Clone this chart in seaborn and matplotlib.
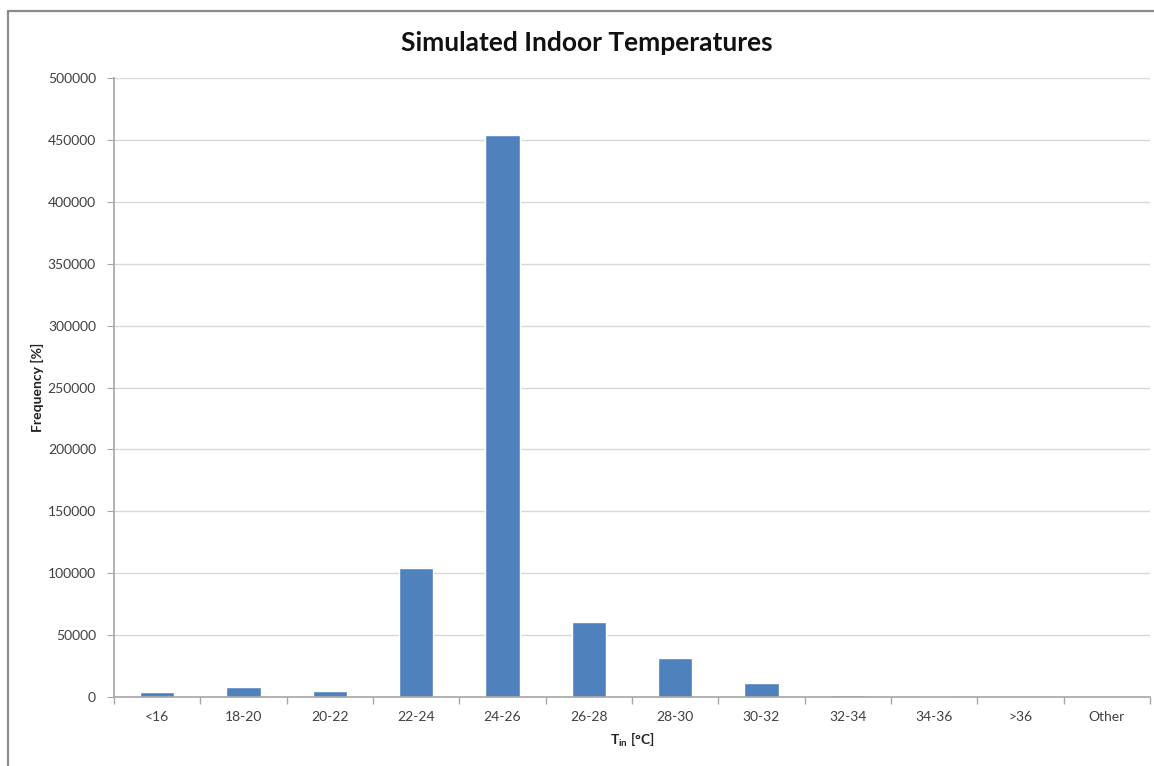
import matplotlib
matplotlib.use('Agg')
import matplotlib.pyplot as plt
import seaborn as sns
import pandas as pd
from matplotlib.lines import Line2D

# data
categories = ['<16', '18-20', '20-22', '22-24', '24-26', '26-28',
              '28-30', '30-32', '32-34', '34-36', '>36', 'Other']
frequency = [3800, 8300, 4600, 104000, 454000, 60500,
             31800, 11000, 1300, 1000, 0, 0]
y_ticks = [0, 50000, 100000, 150000, 200000, 250000,
           300000, 350000, 400000, 450000, 500000]

df = pd.DataFrame({'category': categories, 'frequency': frequency})

sns.set_style('white')
plt.rcParams['font.family'] = ['Lato', 'DejaVu Sans']
plt.rcParams['mathtext.fontset'] = 'custom'
plt.rcParams['mathtext.rm'] = 'Lato:bold'
plt.rcParams['mathtext.it'] = 'Lato:bold'

W, H = 1154, 766
fig = plt.figure(figsize=(W / 100, H / 100), dpi=100)
ax = fig.add_axes([114 / W, 1 - 697 / H, (1150 - 114) / W, (697 - 78) / H])

sns.barplot(data=df, x='category', y='frequency', color='#4F81BD',
            width=0.4, saturation=1, ax=ax)

ax.set_xlim(-0.5, len(categories) - 0.5)
ax.set_ylim(0, 500000)
ax.set_yticks(y_ticks)
ax.set_yticklabels([str(v) for v in y_ticks])
ax.yaxis.grid(True, color='#d9d9d9', lw=1)
ax.set_axisbelow(True)

for s in ['top', 'right']:
    ax.spines[s].set_visible(False)
for s in ['left', 'bottom']:
    ax.spines[s].set_color('#a6a6a6')
    ax.spines[s].set_linewidth(1.2)

ax.tick_params(axis='y', left=True, length=5, color='#a6a6a6',
               labelsize=10, labelcolor='#404040', pad=8)
ax.tick_params(axis='x', which='major', length=0, labelsize=10,
               labelcolor='#404040', pad=10)
ax.set_xticks([i - 0.5 for i in range(len(categories) + 1)], minor=True)
ax.tick_params(axis='x', which='minor', bottom=True, length=5,
               color='#a6a6a6', width=1)

ax.set_xlabel(r'T$_{\rm in}$ [°C]', fontsize=10, fontweight='bold',
              color='#222222', labelpad=6)
ax.set_ylabel('Frequency [%]', fontsize=10, fontweight='bold',
              color='#222222', labelpad=3)
fig.text(587 / W, 1 - 43 / H, 'Simulated Indoor Temperatures',
         ha='center', va='center', fontsize=19, fontweight='bold',
         color='#111111')

# chart border (cropped at right and bottom)
fig.add_artist(Line2D([8 / W, 8 / W], [0, 1 - 11 / H], transform=fig.transFigure,
                      color='#8c8c8c', lw=1.6))
fig.add_artist(Line2D([8 / W, 1], [1 - 11 / H, 1 - 11 / H], transform=fig.transFigure,
                      color='#8c8c8c', lw=1.6))

plt.savefig('out.png', dpi=100)
